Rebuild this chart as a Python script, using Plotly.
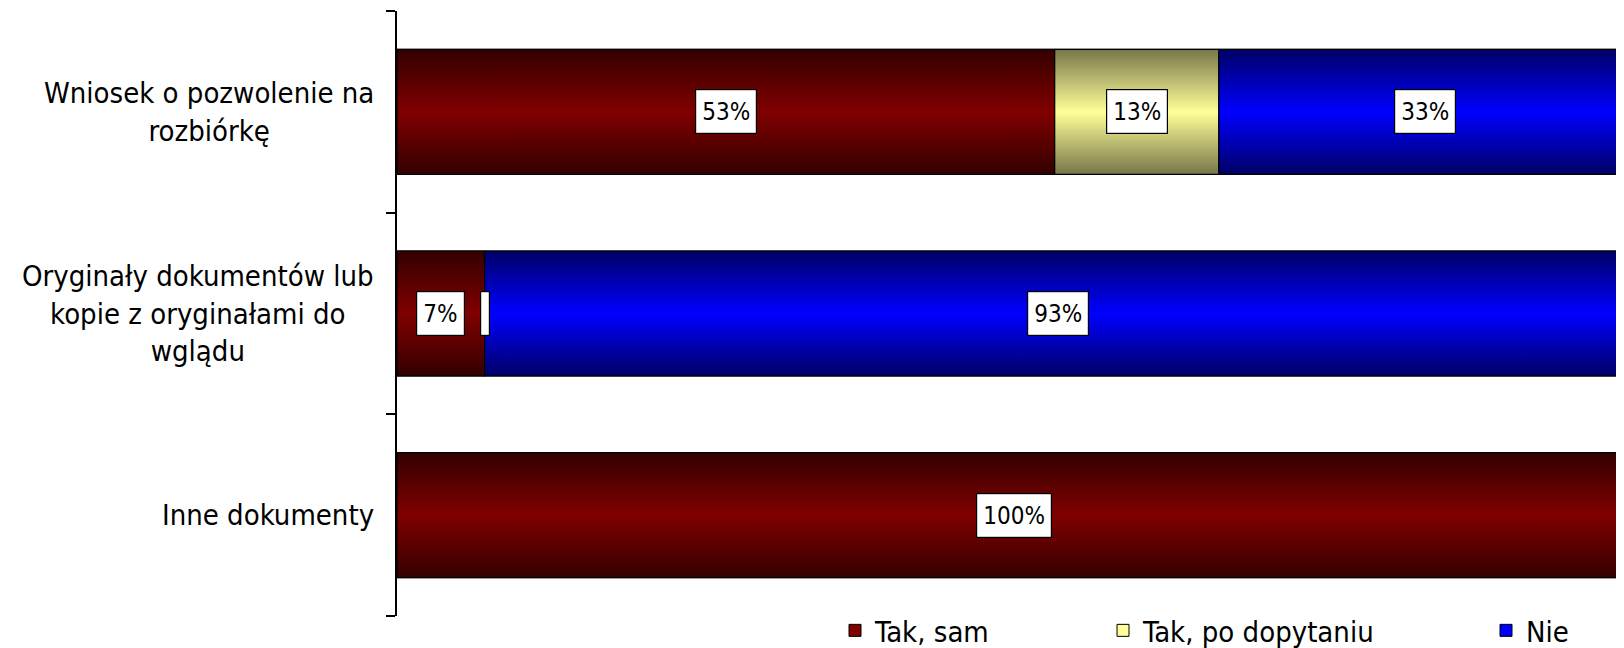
import plotly.graph_objects as go

categories = [
    "Wniosek o pozwolenie na<br>rozbiórkę",
    "Oryginały dokumentów lub<br>kopie z oryginałami do<br>wglądu",
    "Inne dokumenty",
]
series_names = ["Tak, sam", "Tak, po dopytaniu", "Nie"]
tak_sam = [53.3, 7.1, 100.0]
tak_po_dopytaniu = [13.3, 0.0, 0.0]
nie = [33.4, 92.9, 0.0]
labels_tak_sam = ["53%", "7%", "100%"]
labels_tak_po_dopytaniu = ["13%", " ", None]
labels_nie = ["33%", "93%", None]

series_values = [tak_sam, tak_po_dopytaniu, nie]
series_labels = [labels_tak_sam, labels_tak_po_dopytaniu, labels_nie]
center_colors = ["#800000", "#FFFF99", "#0000FF"]
edge_colors = ["#330000", "#77774A", "#000066"]
legend_ids = ["legend", "legend2", "legend3"]

FONT = "DejaVu Sans Condensed, DejaVu Sans, Verdana, sans-serif"
BAR_W = 0.62
ypos = list(range(len(categories)))

W, H = 1624, 648
ML, MR, MT, MB = 389, 1, 3, 40
plot_w = W - ML - MR
plot_h = H - MT - MB

fig = go.Figure()
annotations = []
bases = [0.0] * len(categories)

for s, (name, vals, labs) in enumerate(zip(series_names, series_values, series_labels)):
    fig.add_trace(go.Bar(
        name=name, orientation="h", y=ypos, x=vals, base=list(bases),
        width=BAR_W, marker=dict(color=center_colors[s], line=dict(color="black", width=1)),
        legend=legend_ids[s], showlegend=True,
    ))
    for i, v in enumerate(vals):
        b = bases[i]
        if v > 0:
            y0, y1 = i - BAR_W / 2, i + BAR_W / 2
            fig.add_trace(go.Scatter(
                x=[b, b + v, b + v, b, b], y=[y0, y0, y1, y1, y0],
                mode="lines", fill="toself",
                fillgradient=dict(type="vertical",
                                  colorscale=[[0, edge_colors[s]], [0.5, center_colors[s]], [1, edge_colors[s]]]),
                line=dict(color="black", width=1.2),
                showlegend=False, hoverinfo="skip",
            ))
        lab = labs[i]
        if lab is not None:
            ann = dict(x=b + v / 2, y=i, xref="x", yref="y", text=lab, showarrow=False,
                       font=dict(family=FONT, size=24, color="black"),
                       bgcolor="white", bordercolor="black", borderwidth=1.2, borderpad=6,
                       height=31)
            if lab.strip() == "":
                ann["width"] = 2
                ann["borderpad"] = 3
                ann["height"] = 37
            annotations.append(ann)
        bases[i] = b + v

for i, cat in enumerate(categories):
    annotations.append(dict(x=0, xref="paper", xshift=-21, xanchor="right", y=i, yref="y",
                            text=cat, showarrow=False, align="center",
                            font=dict(family=FONT, size=29, color="black")))

legend_common = dict(orientation="h", yref="paper", y=-MB / plot_h, yanchor="bottom", xanchor="left",
                     font=dict(family=FONT, size=29, color="black"), bgcolor="rgba(0,0,0,0)",
                     itemclick=False, itemdoubleclick=False)

fig.update_layout(
    width=W, height=H,
    margin=dict(l=ML, r=MR, t=MT, b=MB, autoexpand=False),
    plot_bgcolor="white", paper_bgcolor="white",
    barmode="overlay",
    xaxis=dict(range=[0, 100], visible=False, showgrid=False, zeroline=False, fixedrange=True),
    yaxis=dict(range=[2.5, -0.5], tickvals=ypos, ticktext=["", "", ""], ticks="",
               showgrid=False, zeroline=False, showline=True, linecolor="black", linewidth=1.5,
               minor=dict(tickvals=[-0.5, 0.5, 1.5, 2.5], ticks="outside", ticklen=9,
                          tickcolor="black", tickwidth=1.5, showgrid=False),
               fixedrange=True),
    legend=dict(x=(827 - ML) / plot_w, **legend_common),
    legend2=dict(x=(1095 - ML) / plot_w, **legend_common),
    legend3=dict(x=(1478 - ML) / plot_w, **legend_common),
    annotations=annotations,
    showlegend=True,
)

fig.write_html("out.html")
